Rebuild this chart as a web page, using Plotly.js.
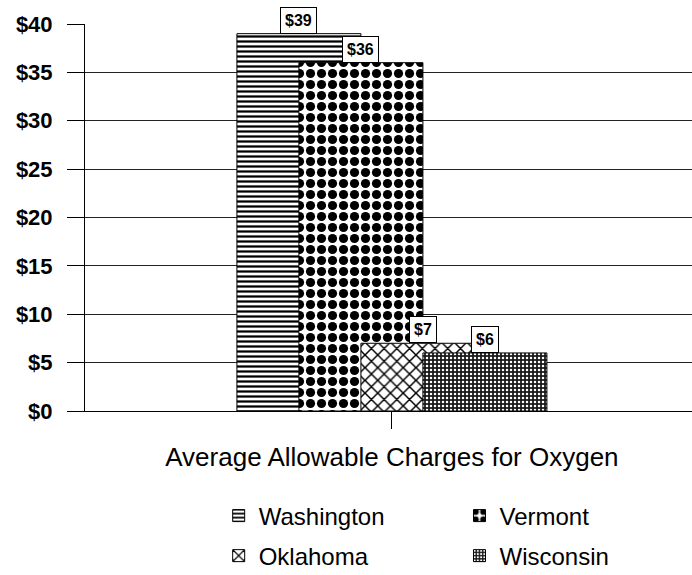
<!DOCTYPE html>
<html>
<head>
<meta charset="utf-8">
<script src="https://cdn.plot.ly/plotly-3.0.1.min.js"></script>
<style>html,body{margin:0;padding:0;background:#fff;}</style>
</head>
<body>
<div id="chart" style="width:692px;height:575px;"></div>
<script>
// ---- data ----
const category = "Average Allowable Charges for Oxygen";
const states = ["Washington", "Vermont", "Oklahoma", "Wisconsin"];
const charges = [39, 36, 7, 6];
const yTickVals = [0, 5, 10, 15, 20, 25, 30, 35, 40];
const yTickText = ["$0", "$5", "$10", "$15", "$20", "$25", "$30", "$35", "$40"];

// ---- styles ----
const barWidth = 0.2;
const barOffsets = [-0.25, -0.15, -0.05, 0.05];
const patterns = [
  {shape: "-", fgcolor: "#000", bgcolor: "#fff", size: 5, solidity: 0.45},
  {shape: ".", fgcolor: "#000", bgcolor: "#fff", size: 11, solidity: 0.55},
  {shape: "x", fgcolor: "#000", bgcolor: "#fff", size: 9, solidity: 0.3},
  {shape: ".", fgcolor: "#fff", bgcolor: "#1a1a1a", size: 4, solidity: 0.3}
];
const legendIds = ["legend", "legend2", "legend3", "legend4"];
const legendPos = [[0.316, 0.1026], [0.664, 0.1026], [0.316, 0.033], [0.664, 0.033]];

const traces = states.map((s, i) => ({
  type: "bar",
  name: s,
  x: [0],
  y: [charges[i]],
  width: [barWidth],
  offset: [barOffsets[i]],
  marker: {color: patterns[i].bgcolor, pattern: patterns[i], line: {color: "#000", width: 1}},
  legend: legendIds[i],
  hoverinfo: "skip"
}));

const annotations = states.map((s, i) => ({
  xref: "x", yref: "y",
  x: barOffsets[i] + barWidth / 2,
  y: charges[i],
  text: "$" + charges[i],
  showarrow: false,
  yanchor: "bottom",
  font: {family: "Liberation Sans, Arial, sans-serif", size: 16, color: "#000", weight: "bold"},
  bgcolor: "#fff",
  bordercolor: "#000",
  borderwidth: 1,
  borderpad: 4
}));

const legendFont = {family: "Liberation Sans, Arial, sans-serif", size: 24, color: "#000"};

const layout = {
  width: 692,
  height: 575,
  margin: {l: 85, r: 0, t: 24, b: 164},
  paper_bgcolor: "#fff",
  plot_bgcolor: "#fff",
  barmode: "overlay",
  showlegend: true,
  xaxis: {
    type: "linear",
    range: [-0.495, 0.484],
    tickvals: [0],
    ticktext: [category],
    ticks: "outside",
    ticklen: 17,
    tickcolor: "#000",
    tickwidth: 1,
    ticklabelstandoff: 6,
    showgrid: false,
    zeroline: false,
    showline: true,
    linecolor: "#000",
    linewidth: 1,
    automargin: false,
    tickfont: {family: "Liberation Sans, Arial, sans-serif", size: 26, color: "#000"},
    fixedrange: true
  },
  yaxis: {
    range: [0, 40],
    tickvals: yTickVals,
    ticktext: yTickText,
    ticks: "outside",
    ticklen: 17,
    tickcolor: "#000",
    tickwidth: 1,
    ticklabelstandoff: 10,
    showgrid: true,
    gridcolor: "#222",
    gridwidth: 1,
    zeroline: false,
    showline: true,
    linecolor: "#000",
    linewidth: 1,
    automargin: false,
    tickfont: {family: "Liberation Sans, Arial, sans-serif", size: 22, color: "#000", weight: "bold"},
    fixedrange: true
  },
  annotations: annotations
};

legendIds.forEach((id, i) => {
  layout[id] = {
    x: legendPos[i][0], y: legendPos[i][1],
    xref: "container", yref: "container",
    xanchor: "left", yanchor: "middle",
    orientation: "h",
    font: legendFont,
    bgcolor: "rgba(0,0,0,0)"
  };
});

Plotly.newPlot("chart", traces, layout, {displayModeBar: false, staticPlot: true});
</script>
</body>
</html>
